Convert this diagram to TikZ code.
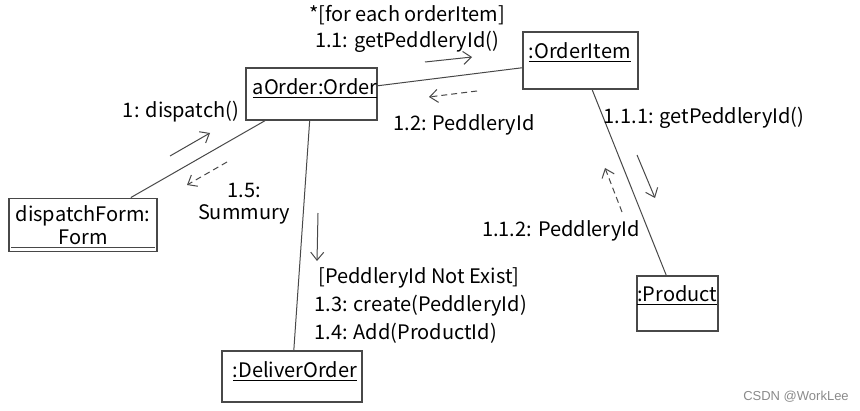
\documentclass[tikz,border=0pt]{standalone}
\usepackage{fontspec}
\setmainfont{Noto Sans CJK SC}
\newfontfamily\markfont{Liberation Sans}
\usetikzlibrary{arrows.meta}

\definecolor{linegray}{HTML}{484848}
\definecolor{markgray}{HTML}{8A8A8A}

\tikzset{
	objbox/.style={draw=linegray, line width=0.65pt, inner sep=0pt},
	objname/.style={anchor=north west, inner sep=0pt, font=\fontsize{10}{12}\selectfont},
	link/.style={draw=linegray, line width=0.5pt},
	call/.style={link, -{Straight Barb[length=4pt,width=6.5pt]}},
	reply/.style={call, dash pattern=on 3pt off 2pt},
	msg/.style={inner sep=0pt, align=center, font=\fontsize{10}{13}\selectfont},
}

\begin{document}
\begin{tikzpicture}[x=0.5pt, y=-0.5pt]
	\useasboundingbox (0,0) rectangle (860,411);

	% objects
	\node [objbox, minimum width=65.5pt, minimum height=26pt] (order) at (311.5,94) {};
	\node [objname, xshift=3.5pt, yshift=-5.5pt] (orderName) at (order.north west) {\underline{aOrder:Order}};

	\node [objbox, minimum width=57.5pt, minimum height=28.5pt] (item) at (580.5,60.5) {};
	\node [objname, xshift=3pt, yshift=-5.5pt] (itemName) at (item.north west) {\underline{:OrderItem}};

	\node [objbox, minimum width=74pt, minimum height=26.8pt, align=center,
		font=\fontsize{10}{11.5}\selectfont] (form) at (83,225) {dispatchForm:\\Form};

	\node [objbox, minimum width=70pt, minimum height=25.5pt] (deliver) at (292,376.5) {};
	\node [objname, xshift=5.5pt, yshift=-5.5pt] (deliverName) at (deliver.north west) {\underline{:DeliverOrder}};

	\node [objbox, minimum width=40.5pt, minimum height=27.5pt] (product) at (677.5,303.5) {};
	\node [objname, xshift=0.3pt, yshift=-4.8pt] (productName) at (product.north west) {\underline{:Product}};

	% links
	\draw [link] (order) -- (item);
	\draw [link] (order) -- (form);
	\draw [link] (order) -- (deliver);
	\draw [link] (item) -- (product);
	\draw [link] ([xshift=1.5pt,yshift=2.3pt]form.south west) -- ([xshift=-1.5pt,yshift=2.3pt]form.south east);

	% messages
	\draw [call] (170,156) -- (210,133);
	\node [msg] (dispatchMsg) at (181,112) {1: dispatch()};
	\draw [reply] (227,162) -- (187,185);
	\node [msg, font=\fontsize{10}{11}\selectfont] (summuryMsg) at (244,204) {1.5:\\Summury};

	\draw [call] (425,62) -- (472,57);
	\node [msg] (getMsg) at (407,29) {*[for each orderItem]\\1.1: getPeddleryId()};
	\draw [reply] (477,91) -- (429,97);
	\node [msg] (idMsg) at (464,125) {1.2: PeddleryId};

	\draw [call] (637,155) -- (655,198);
	\node [msg] (getProdMsg) at (704,118) {1.1.1: getPeddleryId()};
	\draw [reply] (622,212) -- (605,168);
	\node [msg] (prodIdMsg) at (561,231) {1.1.2: PeddleryId};

	\draw [call] (318,213) -- (317,261);
	\node [msg, anchor=west, align=left, font=\fontsize{10}{14}\selectfont] (createMsg) at (314,305)
		{\hspace{2pt}[PeddleryId Not Exist]\\1.3: create(PeddleryId)\\1.4: Add(ProductId)};

	\node [inner sep=0pt, text=markgray, font=\markfont\fontsize{6.5}{8}\selectfont] (mark) at (796,397) {CSDN @WorkLee};
\end{tikzpicture}
\end{document}
